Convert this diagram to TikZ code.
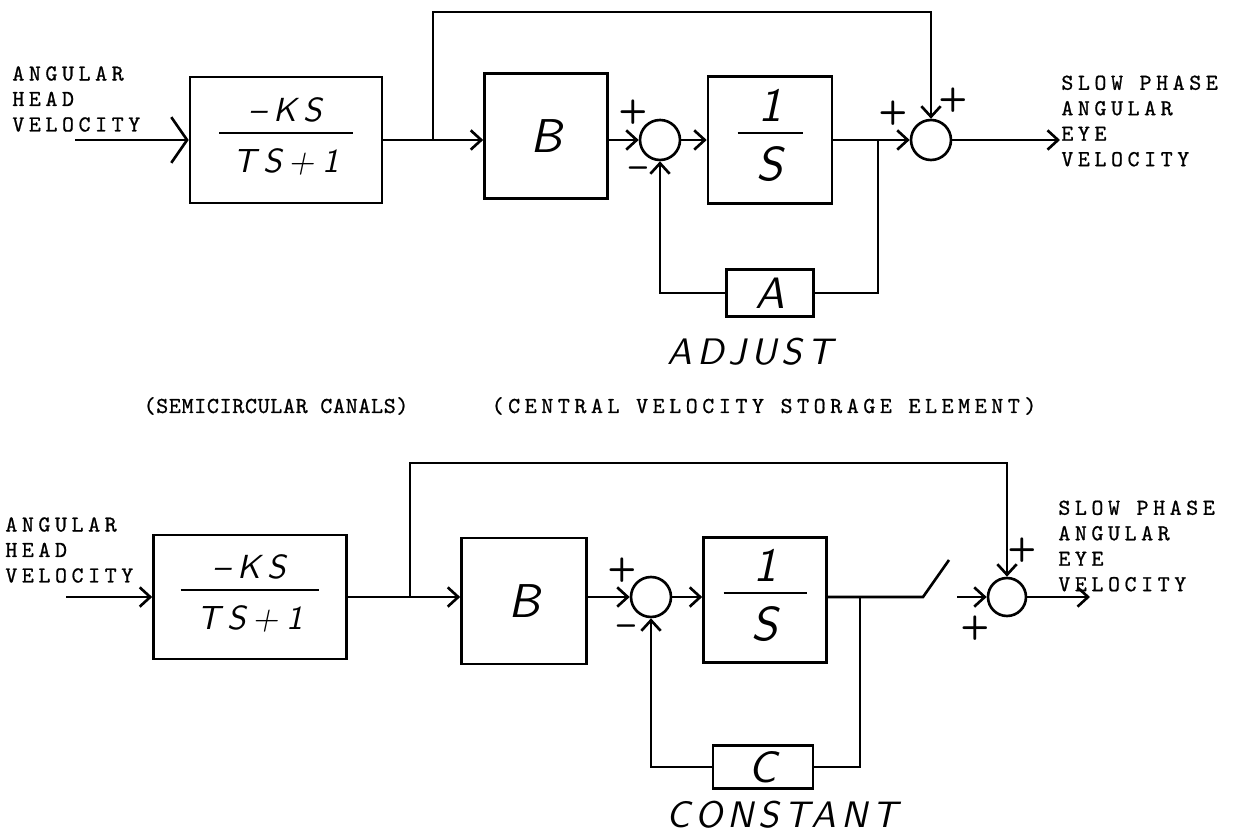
\documentclass[tikz,border=0pt]{standalone}
\usepackage{fontspec}
\usetikzlibrary{arrows.meta}
\newfontfamily\typer{lmmono10-regular.otf}[LetterSpace=20,FakeBold=0.8]
\newfontfamily\hand{lmsans10-oblique.otf}
\newfontfamily\signs{lmsans10-bold.otf}
\setlength\arrayrulewidth{1.3pt}
% transfer function: bar width, numerator, denominator, strut below the bar
\newcommand{\tf}[4]{\begin{tabular}{@{}c@{}}\makebox[#1]{#2}\\\hline\rule{0pt}{#4}\makebox[#1]{#3}\end{tabular}}

\begin{document}
\begin{tikzpicture}[x=0.02cm,y=-0.02cm,
  wire/.style={line width=1.5pt},
  barb/.style={wire,-{Straight Barb[length=6pt,width=11pt]}},
  bigbarb/.style={wire,-{Straight Barb[length=9pt,width=26pt]}},
  blk/.style={draw,line width=1.5pt,inner sep=0pt,font=\hand\fontsize{27}{27}\selectfont},
  ratio/.style={font=\hand\fontsize{19}{20}\selectfont\addfontfeatures{LetterSpace=22}},
  recip/.style={font=\hand\fontsize{27}{20}\selectfont},
  sumj/.style={draw,circle,line width=1.5pt,minimum size=0.8cm,inner sep=0pt},
  sgn/.style={font=\signs\fontsize{19}{19}\selectfont,inner sep=0pt},
  lbl/.style={font=\typer\fontsize{13}{14.5}\selectfont,align=left,inner sep=0pt,anchor=west},
  note/.style={font=\hand\fontsize{21}{21}\selectfont\addfontfeatures{LetterSpace=14},inner sep=0pt}]
\useasboundingbox[fill=white] (0,0) rectangle (1260,837);

% upper loop, adjustable storage
\node[blk,ratio,minimum width=3.84cm,minimum height=2.52cm] (canal1) at (286,140) {\tf{2.68cm}{–KS}{TS+1}{22pt}};
\node[blk,minimum width=2.46cm,minimum height=2.5cm] (gain1) at (546,136) {B};
\node[sumj] (sum1) at (660,140) {};
\node[blk,recip,minimum width=2.48cm,minimum height=2.54cm] (integ1) at (770,140) {\tf{1.3cm}{1}{S}{26pt}};
\node[sumj] (sum2) at (931,140) {};
\node[blk,font=\hand\fontsize{25}{25}\selectfont,minimum width=1.74cm,minimum height=0.94cm] (adj) at (770,293) {A};
\node[sgn] (p1) at (633,112) {+};
\node[sgn] (m1) at (638,172) {–};
\node[sgn] (p2) at (893,113) {+};
\node[sgn] (p3) at (953,100) {+};
\coordinate (in1) at (75,140);
\coordinate (br1) at (433,140);
\coordinate (top1) at (433,12);
\coordinate (br2) at (878,140);
\coordinate (out1) at (1060,140);
\draw[bigbarb] (in1) -- (canal1.west);
\draw[barb] (canal1.east) -- (gain1.west |- canal1.east);
\draw[barb] (gain1.east |- sum1.west) -- (sum1.west);
\draw[barb] (sum1.east) -- (integ1.west);
\draw[barb] (integ1.east) -- (sum2.west);
\draw[barb] (br1) -- (top1) -| (sum2.north);
\draw[wire] (br2) |- (adj.east);
\draw[barb] (adj.west) -| (sum1.south);
\draw[barb] (sum2.east) -- (out1);
\node[lbl] (inlbl1) at (12,99) {ANGULAR\\HEAD\\VELOCITY};
\node[lbl] (outlbl1) at (1061,121) {SLOW PHASE\\ANGULAR\\EYE\\VELOCITY};
\node[note] (adjust) at (750,352) {ADJUST};
\node[lbl,anchor=center,font=\typer\fontsize{13}{14.5}\selectfont\addfontfeatures{LetterSpace=3}] (canals) at (276,406) {(SEMICIRCULAR CANALS)};
\node[lbl,anchor=center] (storage) at (764,406) {(CENTRAL VELOCITY STORAGE ELEMENT)};

% lower loop, constant storage with switch
\node[blk,ratio,minimum width=3.86cm,minimum height=2.48cm] (canal2) at (250,597) {\tf{2.78cm}{–KS}{TS+1}{22pt}};
\node[blk,minimum width=2.5cm,minimum height=2.52cm] (gain2) at (524,601) {B};
\node[sumj] (sum3) at (651,597) {};
\node[blk,recip,minimum width=2.46cm,minimum height=2.5cm] (integ2) at (765,600) {\tf{1.66cm}{1}{S}{26pt}};
\node[sumj,minimum size=0.76cm] (sum4) at (1007,597) {};
\node[blk,font=\hand\fontsize{25}{25}\selectfont,minimum width=2cm,minimum height=0.86cm] (const) at (763,767) {C};
\node[sgn] (p4) at (622,570) {+};
\node[sgn] (m2) at (626,630) {–};
\node[sgn] (p5) at (1022,550) {+};
\node[sgn] (p6) at (975,628) {+};
\coordinate (in2) at (66,597);
\coordinate (br3) at (410,597);
\coordinate (top2) at (410,463);
\coordinate (br4) at (860,597);
\coordinate (sw1) at (923,597);
\coordinate (sw2) at (949,560);
\coordinate (sw3) at (957,597);
\coordinate (out2) at (1090,597);
\draw[barb] (in2) -- (canal2.west);
\draw[barb] (canal2.east) -- (gain2.west |- canal2.east);
\draw[barb] (gain2.east |- sum3.west) -- (sum3.west);
\draw[barb] (sum3.east) -- (integ2.west |- sum3.east);
\draw[wire] (integ2.east |- sw1) -- (sw1) -- (sw2);
\draw[barb] (sw3) -- (sum4.west);
\draw[barb] (br3) -- (top2) -| (sum4.north);
\draw[wire] (br4) |- (const.east);
\draw[barb] (const.west) -| (sum3.south);
\draw[barb] (sum4.east) -- (out2);
\node[lbl] (inlbl2) at (5,550) {ANGULAR\\HEAD\\VELOCITY};
\node[lbl] (outlbl2) at (1058,546) {SLOW PHASE\\ANGULAR\\EYE\\VELOCITY};
\node[note] (constant) at (782,815) {CONSTANT};
\end{tikzpicture}
\end{document}
